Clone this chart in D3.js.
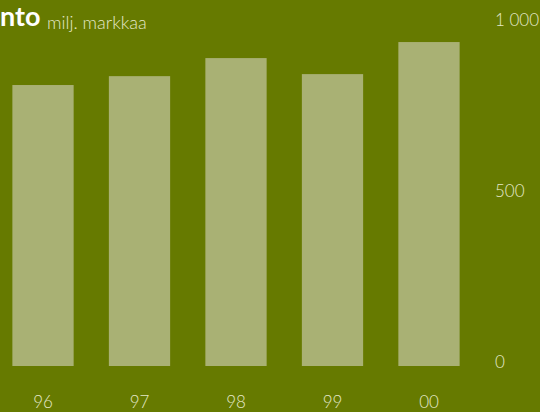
<!DOCTYPE html>
<html>
<head>
<meta charset="utf-8">
<script src="https://cdn.jsdelivr.net/npm/d3@7"></script>
<style>
  html, body { margin: 0; padding: 0; background: #667a00; overflow: hidden; }
  text { font-family: Lato, "Open Sans", sans-serif; }
</style>
</head>
<body>
<script>
const years = ['96', '97', '98', '99', '00'];
const values = [824, 850, 903, 856, 950];
const ticks = [0, 500, 1000];

const width = 540;
const height = 412;

const svg = d3.select('body').append('svg')
    .attr('width', width)
    .attr('height', height);

svg.append('rect')
    .attr('width', width)
    .attr('height', height)
    .attr('fill', '#667a00');

const x = d3.scaleBand()
    .domain(years)
    .range([-5, 477])
    .paddingInner(0.365)
    .paddingOuter(0.18);

const y = d3.scaleLinear()
    .domain([0, 1000])
    .range([366, 25]);

svg.selectAll('.bar')
    .data(values)
    .enter().append('rect')
    .attr('class', 'bar')
    .attr('x', (d, i) => x(years[i]))
    .attr('y', d => y(d))
    .attr('width', x.bandwidth())
    .attr('height', d => y(0) - y(d))
    .attr('fill', '#a9b174');

// right axis
const yAxis = svg.append('g')
    .attr('transform', 'translate(495,0)')
    .call(d3.axisRight(y).tickValues(ticks).tickSize(0).tickPadding(0)
        .tickFormat(d => d3.format(',')(d).replace(',', ' ')));
yAxis.select('.domain').remove();
yAxis.selectAll('text')
    .attr('fill', '#e4e8c8')
    .attr('font-size', 17)
    .attr('font-weight', 300)
    .attr('font-family', 'Lato, "Open Sans", sans-serif')
    .attr('dy', d => d === 0 ? '0.1em' : '0.05em');

// bottom axis
const xAxis = svg.append('g')
    .attr('transform', 'translate(0,398)')
    .call(d3.axisBottom(x).tickSize(0).tickPadding(0));
xAxis.select('.domain').remove();
xAxis.selectAll('text')
    .attr('fill', '#e4e8c8')
    .attr('font-size', 17)
    .attr('font-weight', 300)
    .attr('font-family', 'Lato, "Open Sans", sans-serif')
    .attr('dy', '0.6em');

// title (left part cut off in the original)
svg.append('text')
    .attr('x', 0)
    .attr('y', 26)
    .attr('fill', '#ffffff')
    .attr('font-weight', 'bold')
    .attr('font-size', 27)
    .text('nto');

svg.append('text')
    .attr('x', 47)
    .attr('y', 29)
    .attr('fill', '#e4e8c8')
    .attr('font-size', 18)
    .attr('font-weight', 300)
    .text('milj. markkaa');
</script>
</body>
</html>
